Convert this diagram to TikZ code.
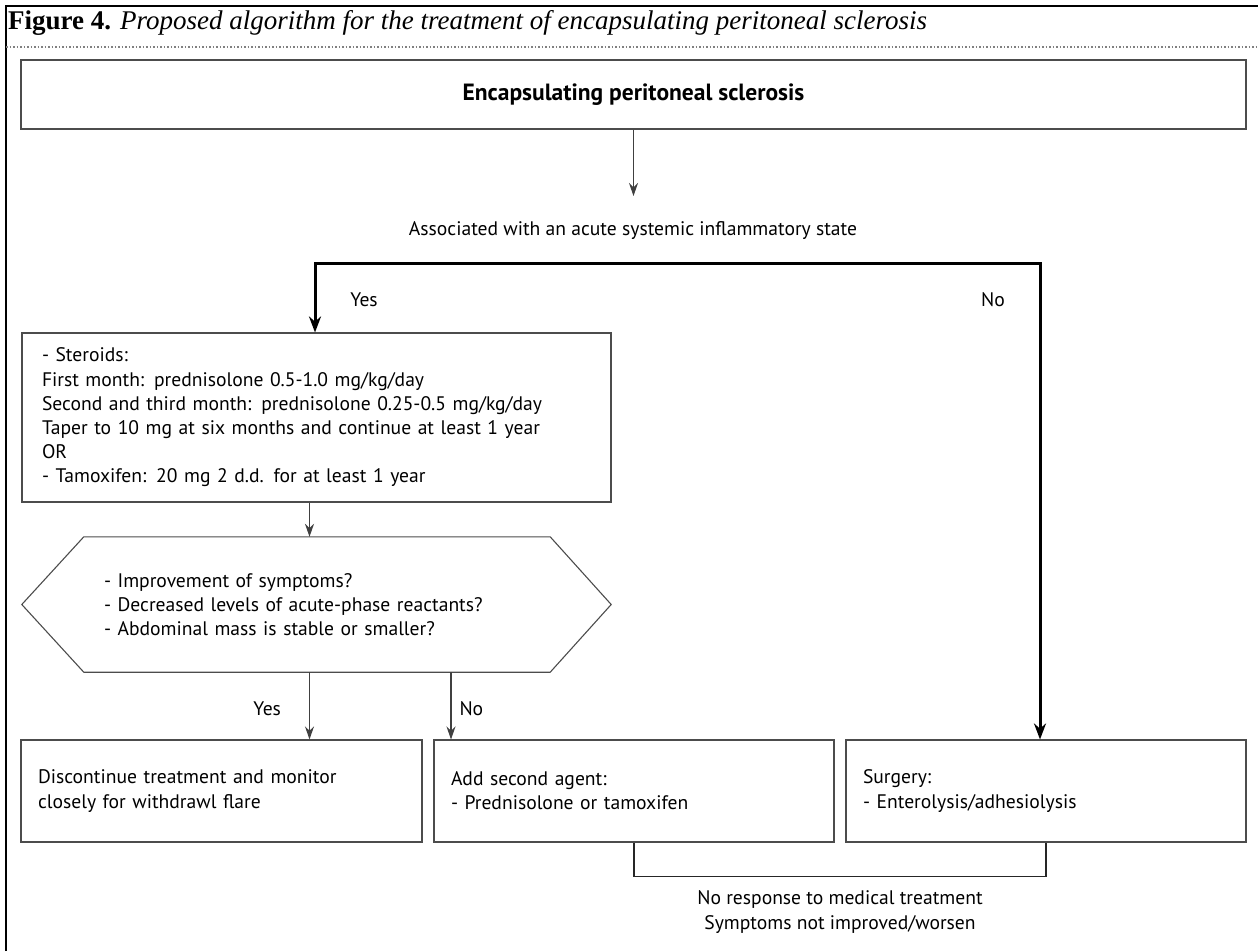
\documentclass[tikz,border=0pt]{standalone}
\usepackage{fontspec}
\setmainfont{PT Sans}
\newfontfamily\titlefont{Liberation Serif}
\usetikzlibrary{arrows.meta,calc}
\newcommand\bodyfont{\fontsize{19.6}{24.2}\selectfont}
\begin{document}
\begin{tikzpicture}[x=1pt,y=-1pt,
  box/.style={draw=black!70, line width=1.1pt, rectangle, inner ysep=0pt, font=\bodyfont},
  arr/.style={draw=black!75, line width=1.1pt, -{Stealth[length=13pt,width=9pt]}},
  thk/.style={draw=black, line width=3pt, line join=miter, {Stealth[length=16pt,width=12pt]}-{Stealth[length=16pt,width=12pt]}},
  lbl/.style={font=\bodyfont, inner sep=0pt},
  hexline/.style={draw=black!70, line width=1.1pt},
  bracketline/.style={draw=black!85, line width=1.3pt}
]
\useasboundingbox (0,0) rectangle (1258,951);

% frame and title
\draw[line width=2pt] (6,951) -- (6,6) -- (1258,6);
\draw[black!50, line width=1.2pt, dash pattern=on 1.5pt off 2pt] (6,47) -- (1258,47);
\node[anchor=base west, inner sep=0pt, font=\titlefont\fontsize{27}{32}\selectfont] (title) at (8,29)
  {\textbf{Figure 4.} \textit{Proposed algorithm for the treatment of encapsulating peritoneal sclerosis}};

% top box
\node[box, minimum width=1225pt, minimum height=69pt, inner xsep=0pt, font=\fontsize{23.5}{28}\selectfont\bfseries] (top) at (633.5,94.5)
  {Encapsulating peritoneal sclerosis};
\node[lbl] (assoc) at (633,231) {Associated with an acute systemic inflammatory state};
\coordinate (assocTop) at (633.5,196);
\draw[arr] (top.south) -- (assocTop);

% steroids box
\node[box, minimum width=589pt, minimum height=169pt, text width=549pt, inner xsep=20pt, align=left] (ster) at (316.5,417.5)
  {- Steroids:\\
   First month: prednisolone 0.5-1.0 mg/kg/day\\
   Second and third month: prednisolone 0.25-0.5 mg/kg/day\\
   Taper to 10 mg at six months and continue at least 1 year\\
   OR\\
   - Tamoxifen: 20 mg 2 d.d. for at least 1 year};

% hexagon decision
\node[lbl, minimum width=589pt, minimum height=135pt, text width=425pt, inner xsep=82pt, inner ysep=0pt, align=left] (hex) at (316.5,604.5)
  {- Improvement of symptoms?\\
   - Decreased levels of acute-phase reactants?\\
   - Abdominal mass is stable or smaller?};
\draw[hexline] (hex.west) -- ([xshift=62pt]hex.north west) -- ([xshift=-61pt]hex.north east) -- (hex.east)
  -- ([xshift=-61pt]hex.south east) -- ([xshift=62pt]hex.south west) -- cycle;

% bottom boxes
\node[box, minimum width=401pt, minimum height=102pt, text width=367pt, inner xsep=17pt, align=left] (b1) at (221.5,791)
  {Discontinue treatment and monitor\\closely for withdrawl flare};
\node[box, minimum width=400pt, minimum height=102pt, text width=366pt, inner xsep=17pt, align=left] (b2) at (634,791)
  {Add second agent:\\- Prednisolone or tamoxifen};
\node[box, minimum width=400pt, minimum height=102pt, text width=366pt, inner xsep=17pt, align=left] (b3) at (1046,791)
  {Surgery:\\- Enterolysis/adhesiolysis};

% thick branch
\coordinate (jl) at (315,263);
\coordinate (jr) at (1040,263);
\draw[thk] (jl |- ster.north) -- (jl) -- (jr) -- (jr |- b3.north);
\node[lbl] (yes1) at (364,300) {Yes};
\node[lbl] (no1) at (993,300) {No};

% thin arrows
\draw[arr] ([xshift=-7pt]ster.south) -- ([xshift=-7pt]hex.north);
\draw[arr] ([xshift=-7pt]hex.south) -- ([xshift=-7pt]hex.south |- b1.north)
  node[lbl, midway, left=28pt, yshift=-3pt] (yes2) {Yes};
\draw[arr] ([xshift=134.5pt]hex.south) -- ([xshift=134.5pt]hex.south |- b2.north)
  node[lbl, midway, right=8pt, yshift=-3pt] (no2) {No};

% bracket
\draw[bracketline] (b2.south) -- ++(0,34) -| (b3.south);
\node[lbl, align=center] (noresp) at (840,912) {No response to medical treatment\\Symptoms not improved/worsen};
\end{tikzpicture}
\end{document}
